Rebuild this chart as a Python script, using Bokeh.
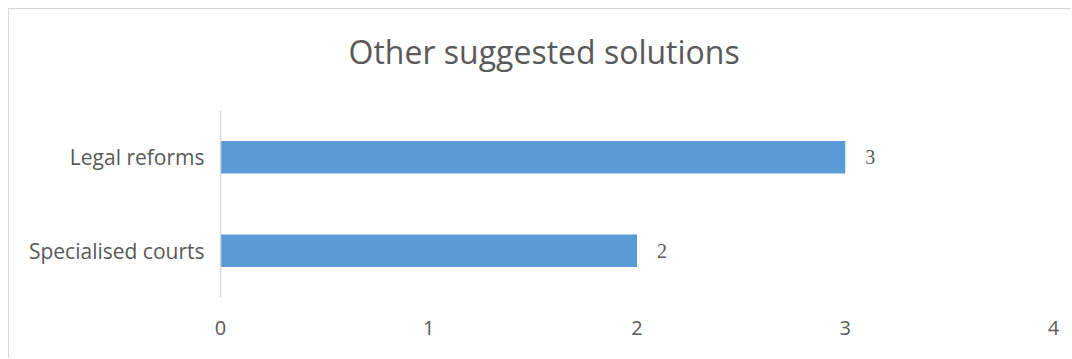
from bokeh.plotting import figure
from bokeh.models import ColumnDataSource, FactorRange, Range1d, FixedTicker, LabelSet, Title
from bokeh.embed import file_html
from bokeh.resources import INLINE

title_text = "Other suggested solutions"
categories = ["Specialised courts", "Legal reforms"]
values = [2, 3]
x_ticks = [0, 1, 2, 3, 4]

TEXT = "#595959"
FONT = "Open Sans"

source = ColumnDataSource(data=dict(cat=categories, val=values, lab=[str(v) for v in values]))

p = figure(
    width=1063, height=350,
    y_range=FactorRange(*categories),
    x_range=Range1d(0, 4),
    output_backend="svg", toolbar_location=None,
    min_border_left=211, min_border_right=19, min_border_top=101, min_border_bottom=62,
    styles={"border-left": "1px solid #d9d9d9", "border-top": "1px solid #d9d9d9",
            "margin-left": "8px", "margin-top": "8px"},
)
p.outline_line_color = None
p.xgrid.visible = False
p.ygrid.visible = False

p.hbar(y="cat", right="val", left=0, height=0.35, source=source,
       fill_color="#5B9BD5", line_color=None)

labels = LabelSet(x="val", y="cat", text="lab", source=source, x_offset=20,
                  text_align="left", text_baseline="middle",
                  text_font=FONT, text_font_size="20px", text_color=TEXT)
p.add_layout(labels)

# spacer between the frame and the title
spacer = Title(text=".", text_font_size="2px", standoff=30, text_color="#ffffff")
p.add_layout(spacer, "above")

title = Title(text=title_text, align="left", offset=128, vertical_align="bottom",
              standoff=10, text_font=FONT, text_font_size="32px",
              text_font_style="normal", text_color=TEXT)
p.add_layout(title, "above")

xa = p.xaxis[0]
xa.ticker = FixedTicker(ticks=x_ticks)
xa.axis_line_color = None
xa.major_tick_line_color = None
xa.minor_tick_line_color = None
xa.major_tick_out = 0
xa.major_label_standoff = 23
xa.major_label_text_font = FONT
xa.major_label_text_font_size = "20px"
xa.major_label_text_color = TEXT

ya = p.yaxis[0]
ya.axis_line_color = "#d9d9d9"
ya.axis_line_width = 1.5
ya.major_tick_line_color = None
ya.minor_tick_line_color = None
ya.major_tick_out = 0
ya.major_label_standoff = 16
ya.major_label_text_font = FONT
ya.major_label_text_font_size = "21px"
ya.major_label_text_color = TEXT

open("out.html", "w").write(file_html(p, INLINE))
